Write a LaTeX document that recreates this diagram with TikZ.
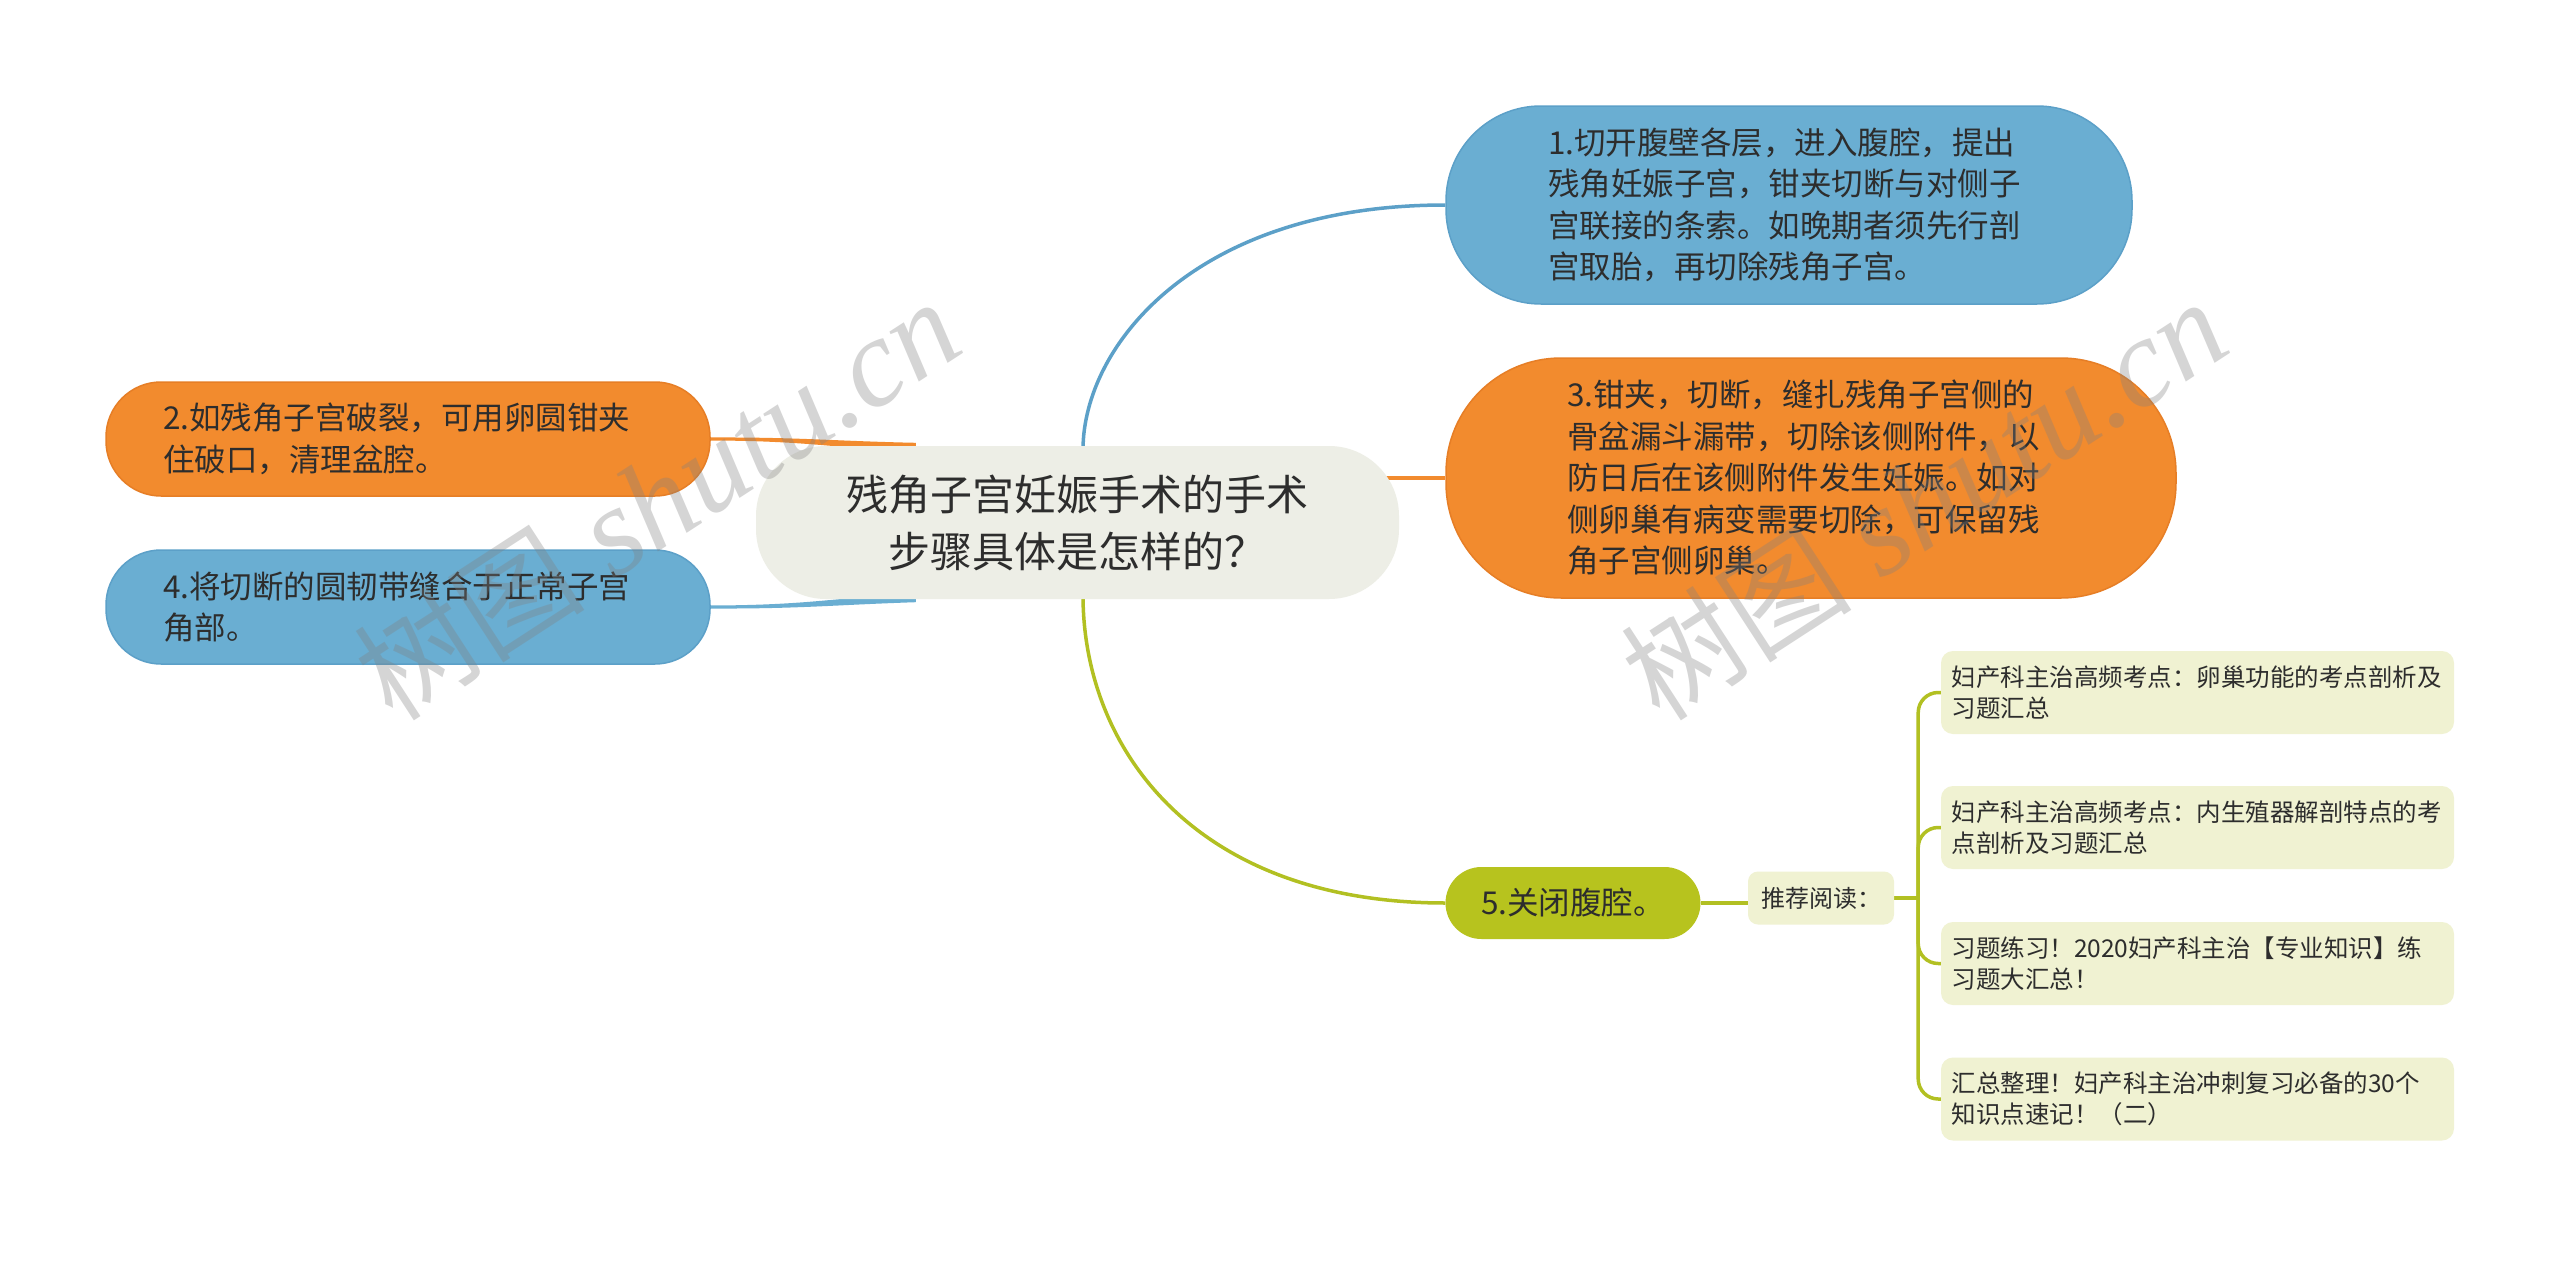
\documentclass[tikz,border=0pt]{standalone}
\usepackage{fontspec}
\setmainfont{Noto Sans CJK SC}
\newfontfamily\wmcjk{Noto Sans CJK SC}
\newfontfamily\wmlat{Liberation Serif}
\usetikzlibrary{calc,backgrounds}
\definecolor{cblue}{RGB}{106,174,210}
\definecolor{cbluedk}{RGB}{92,160,200}
\definecolor{corange}{RGB}{242,139,46}
\definecolor{corangedk}{RGB}{230,126,38}
\definecolor{cgreen}{RGB}{183,195,30}
\definecolor{cgreenln}{RGB}{178,192,34}
\definecolor{ccenter}{RGB}{237,238,230}
\definecolor{cpale}{RGB}{240,242,210}
\definecolor{ctext}{RGB}{45,45,45}
\definecolor{cwm}{RGB}{128,128,128}
\begin{document}
\begin{tikzpicture}[x=1pt,y=-1pt,
  box/.style={inner sep=0pt, align=left, text=ctext},
  bigtxt/.style={font=\fontsize{31.5}{41.5}\selectfont},
  smalltxt/.style={font=\fontsize{24.5}{31}\selectfont},
  bluebox/.style={box, bigtxt, fill=cblue, draw=cbluedk, line width=1.5pt},
  orangebox/.style={box, bigtxt, fill=corange, draw=corangedk, line width=1.5pt},
  palebox/.style={box, smalltxt, fill=cpale, rounded corners=12pt, minimum width=513pt, minimum height=83pt, text width=492pt},
  blueln/.style={draw=cbluedk, line width=3.5pt},
  orangeln/.style={draw=corange, line width=3.5pt},
  greenln/.style={draw=cgreenln, line width=3.5pt},
  wm/.style={text=cwm, text opacity=0.33, inner sep=0pt, rotate=33}]
\useasboundingbox (0,0) rectangle (2560,1263);

% central topic
\node[box, fill=ccenter, rounded corners=70pt, minimum width=643pt, minimum height=153pt,
  align=center, font=\fontsize{42}{57}\selectfont] (c) at (1077.5,522.5)
  {残角子宫妊娠手术的手术\\步骤具体是怎样的？};

% main branches
\node[bluebox, rounded corners=95pt, minimum width=686pt, minimum height=198pt, text width=482pt] (n1) at (1789,205)
  {1.切开腹壁各层，进入腹腔，提出\\残角妊娠子宫，钳夹切断与对侧子\\宫联接的条索。如晚期者须先行剖\\宫取胎，再切除残角子宫。};
\node[orangebox, rounded corners=115pt, minimum width=730pt, minimum height=240pt, text width=488pt] (n3) at (1811,478)
  {3.钳夹，切断，缝扎残角子宫侧的\\骨盆漏斗漏带，切除该侧附件，以\\防日后在该侧附件发生妊娠。如对\\侧卵巢有病变需要切除，可保留残\\角子宫侧卵巢。};
\node[orangebox, rounded corners=55pt, minimum width=604pt, minimum height=114pt, text width=490pt] (n2) at (408,439)
  {2.如残角子宫破裂，可用卵圆钳夹\\住破口，清理盆腔。};
\node[bluebox, rounded corners=55pt, minimum width=604pt, minimum height=114pt, text width=490pt] (n4) at (408,607)
  {4.将切断的圆韧带缝合于正常子宫\\角部。};
\node[box, bigtxt, fill=cgreen, rounded corners=36pt, minimum width=255pt, minimum height=72pt] (n5) at (1573,903)
  {5.关闭腹腔。};

% recommended reading
\node[box, fill=cpale, rounded corners=10pt, minimum width=146pt, minimum height=53pt,
  font=\fontsize{24}{30}\selectfont] (t) at (1821,898) {推荐阅读：};
\node[palebox] (r1) at (2197.5,692.5) {妇产科主治高频考点：卵巢功能的考点剖析及\\习题汇总};
\node[palebox] (r2) at (2197.5,827.5) {妇产科主治高频考点：内生殖器解剖特点的考\\点剖析及习题汇总};
\node[palebox] (r3) at (2197.5,963.5) {习题练习！2020妇产科主治【专业知识】练\\习题大汇总！};
\node[palebox] (r4) at (2197.5,1099) {汇总整理！妇产科主治冲刺复习必备的30个\\知识点速记！（二）};

% connectors
\begin{pgfonlayer}{background}
\fill[white] (0,0) rectangle (2560,1263);
\draw[blueln] ($(c.north)+(5.5,4)$) .. controls ($(c.north)+(5.5,-100)$) and ($(n1.west)+(-250,0)$) .. (n1.west);
\draw[greenln] ($(c.south)+(5.5,-4)$) .. controls ($(c.south)+(5.5,150)$) and ($(n5.west)+(-250,0)$) .. (n5.west);
\draw[orangeln] (c.center |- n3.west) -- (n3.west);
\fill[corange] ($(n2.east)+(-6,-1.5)$) .. controls ($(n2.east)+(90,-2)$) and ($(n2.east)+(120,2)$)
  .. ($(c.north west)+(160,-3)$) -- ($(c.north west)+(160,7)$)
  .. controls ($(n2.east)+(120,8)$) and ($(n2.east)+(90,1.5)$) .. ($(n2.east)+(-6,1.5)$) -- cycle;
\fill[cblue] ($(n4.east)+(-6,-1.5)$) .. controls ($(n4.east)+(90,-1.5)$) and ($(n4.east)+(120,-8)$)
  .. ($(c.south west)+(160,-7)$) -- ($(c.south west)+(160,3)$)
  .. controls ($(n4.east)+(120,-2)$) and ($(n4.east)+(90,2)$) .. ($(n4.east)+(-6,1.5)$) -- cycle;
\draw[greenln] (n5.east) -- (n5.east -| t.west);
\coordinate (bx) at ($(t.east)+(24,0)$);
\draw[greenln] (t.east) -- (bx);
\foreach \r in {r1,r2,r3,r4}
  \draw[greenln, rounded corners=20pt] (bx) |- (\r.west);
\end{pgfonlayer}

% watermarks
\node[wm] (wm1) at (657,500) {{\wmcjk\fontsize{116}{116}\selectfont 树图}\hspace{30pt}{\wmlat\itshape\fontsize{126}{126}\selectfont shutu.cn}};
\node[wm] (wm2) at (1924,500) {{\wmcjk\fontsize{116}{116}\selectfont 树图}\hspace{30pt}{\wmlat\itshape\fontsize{126}{126}\selectfont shutu.cn}};
\end{tikzpicture}
\end{document}
